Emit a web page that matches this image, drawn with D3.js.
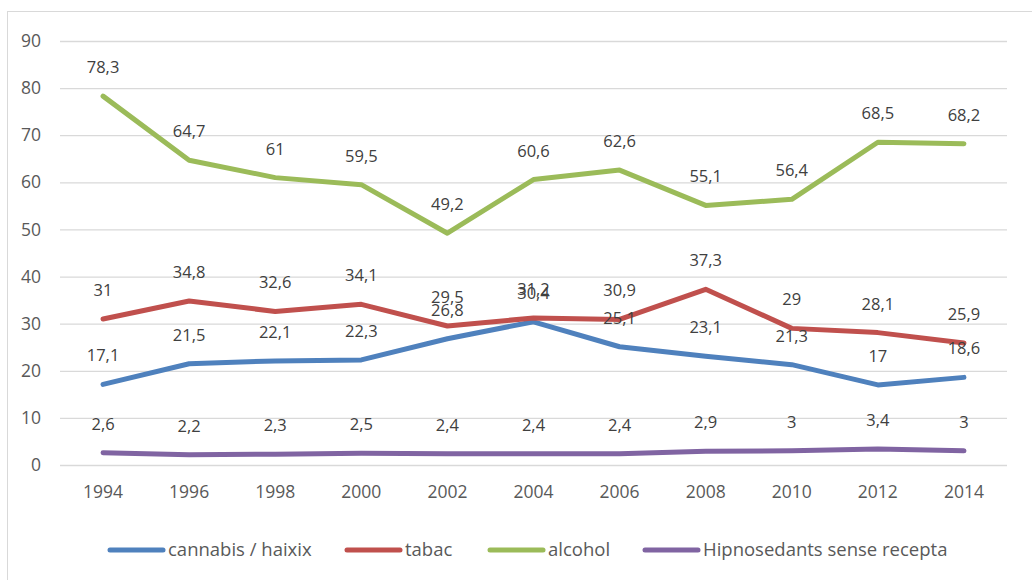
<!DOCTYPE html>
<html><head><meta charset="utf-8">
<script src="https://cdn.jsdelivr.net/npm/d3@7"></script>
<style>body{margin:0;background:#fff}svg{display:block}</style>
</head><body>
<svg id="c" width="1032" height="580"></svg>
<script>
const years = ["1994","1996","1998","2000","2002","2004","2006","2008","2010","2012","2014"];
const cannabis = [17.1,21.5,22.1,22.3,26.8,30.4,25.1,23.1,21.3,17,18.6];
const tabac = [31,34.8,32.6,34.1,29.5,31.2,30.9,37.3,29,28.1,25.9];
const alcohol = [78.3,64.7,61,59.5,49.2,60.6,62.6,55.1,56.4,68.5,68.2];
const hipno = [2.6,2.2,2.3,2.5,2.4,2.4,2.4,2.9,3,3.4,3];
const seriesNames = ["cannabis / haixix","tabac","alcohol","Hipnosedants sense recepta"];
const yTicks = [0,10,20,30,40,50,60,70,80,90];

const series = [
  {name:seriesNames[0], values:cannabis, color:"#4F81BD"},
  {name:seriesNames[1], values:tabac, color:"#C0504D"},
  {name:seriesNames[2], values:alcohol, color:"#9BBB59"},
  {name:seriesNames[3], values:hipno, color:"#8064A2"}
];
const font = "Open Sans, Noto Sans, sans-serif";
const svg = d3.select("#c");
svg.append("rect").attr("x",7.5).attr("y",11.5).attr("width",1040).attr("height",600)
  .attr("fill","none").attr("stroke","#d9d9d9").attr("stroke-width",1);

const x = d3.scalePoint().domain(years).range([60,1007]).padding(0.5);
const y = d3.scaleLinear().domain([0,90]).range([465,41]);

const g = svg.append("g");
g.selectAll("line.grid").data(yTicks).join("line")
  .attr("x1",60).attr("x2",1007).attr("y1",d=>y(d)+0.5).attr("y2",d=>y(d)+0.5)
  .attr("stroke","#d9d9d9").attr("stroke-width",1.3);

g.selectAll("text.yt").data(yTicks).join("text")
  .attr("x",41).attr("y",d=>y(d)).attr("dy","0.35em").attr("text-anchor","end")
  .attr("font-family",font).attr("font-size",17.5).attr("fill","#595959").text(d=>d);

g.selectAll("text.xt").data(years).join("text")
  .attr("x",d=>x(d)).attr("y",498).attr("text-anchor","middle")
  .attr("font-family",font).attr("font-size",17.5).attr("fill","#595959").text(d=>d);

const line = d3.line().x((d,i)=>x(years[i])).y(d=>y(d));
series.forEach(s=>{
  g.append("path").attr("d",line(s.values)).attr("fill","none")
    .attr("stroke",s.color).attr("stroke-width",5).attr("stroke-linejoin","round").attr("stroke-linecap","round");
});
const fmt = v => String(v).replace(".",",");
series.forEach(s=>{
  g.selectAll(null).data(s.values).join("text")
    .attr("x",(d,i)=>x(years[i])).attr("y",d=>y(d)-23).attr("text-anchor","middle")
    .attr("font-family",font).attr("font-size",16.5).attr("fill","#404040").text(d=>fmt(d));
});

const legX = [110,347,490,645];
const leg = svg.append("g");
series.forEach((s,i)=>{
  leg.append("line").attr("x1",legX[i]).attr("x2",legX[i]+53).attr("y1",550).attr("y2",550)
    .attr("stroke",s.color).attr("stroke-width",5).attr("stroke-linecap","round");
  leg.append("text").attr("x",legX[i]+58).attr("y",550).attr("dy","0.35em")
    .attr("font-family",font).attr("font-size",18.5).attr("fill","#595959").text(s.name);
});
</script>
</body></html>
